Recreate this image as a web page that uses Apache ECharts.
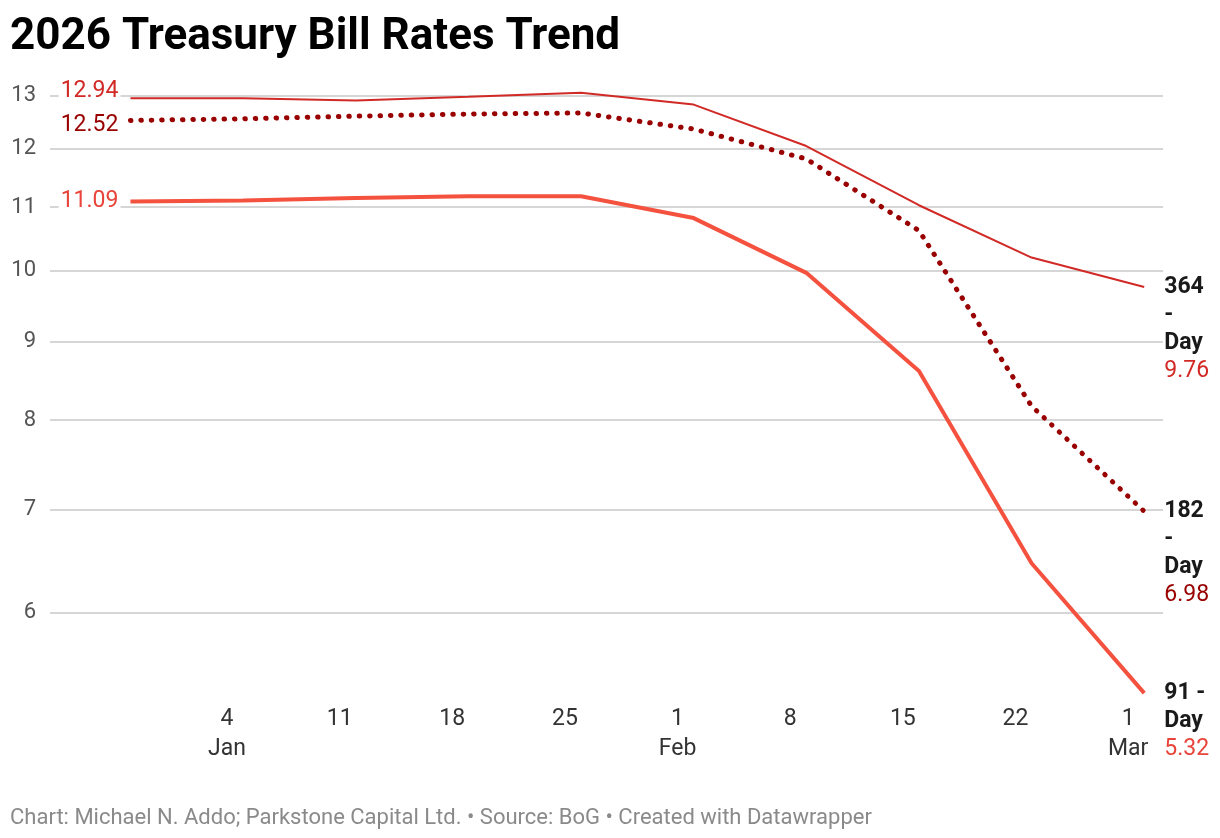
<!DOCTYPE html>
<html><head><meta charset="utf-8">
<script src="https://cdn.jsdelivr.net/npm/echarts@6/dist/echarts.min.js"></script>
<style>html,body{margin:0;padding:0;background:#fff}#c{width:1220px;height:838px}</style>
</head><body><div id="c"></div>
<script>
const dates = ['2025-12-29','2026-01-05','2026-01-12','2026-01-19','2026-01-26','2026-02-02','2026-02-09','2026-02-16','2026-02-23','2026-03-02'];
const rate364 = [12.94,12.94,12.90,12.97,13.05,12.82,12.05,11.03,10.20,9.76];
const rate182 = [12.52,12.55,12.60,12.64,12.66,12.36,11.82,10.62,8.17,6.98];
const rate91  = [11.09,11.11,11.15,11.18,11.18,10.82,9.97,8.61,6.46,5.32];
const yTicks = [6,7,8,9,10,11,12,13];
const xTicks = ['2026-01-04','2026-01-11','2026-01-18','2026-01-25','2026-02-01','2026-02-08','2026-02-15','2026-02-22','2026-03-01'];
const monthNames = ['Jan','Feb','Mar','Apr','May','Jun','Jul','Aug','Sep','Oct','Nov','Dec'];
const seriesNames = ['364-Day','182-Day','91-Day'];
const endNames = [['364','-','Day'],['182','-','Day'],['91 -','Day']];

const FONT = 'Roboto, "Noto Sans", sans-serif';
const toMs = s => new Date(s + (s.length === 10 ? 'T00:00:00' : '')).getTime();

function mk(idx, vals, color, labelColor, lineStyle, startDy, extra) {
  const data = dates.map((d, i) => {
    const item = { value: [toMs(d), vals[i]] };
    if (i === 0) {
      item.label = {
        show: true, position: 'left', distance: 10, offset: [0, startDy],
        formatter: vals[0].toFixed(2),
        color: labelColor, fontSize: 23, fontFamily: FONT,
        backgroundColor: '#fff', padding: [0, 2, 0, 2]
      };
    }
    return item;
  });
  const lines = endNames[idx].map(t => '{b|' + t + '}').join('\n');
  return Object.assign({
    type: 'line', name: seriesNames[idx], data,
    symbol: 'circle', symbolSize: 0, showSymbol: true,
    lineStyle: Object.assign({ color }, lineStyle),
    itemStyle: { color },
    label: { show: false },
    emphasis: { disabled: true },
    endLabel: {
      show: true, distance: 20, align: 'left', verticalAlign: 'top', offset: [0, -14],
      formatter: () => lines + '\n{v|' + vals[vals.length - 1].toFixed(2) + '}',
      rich: {
        b: { fontSize: 23, fontWeight: 'bold', color: '#1a1a1a', lineHeight: 28, fontFamily: FONT },
        v: { fontSize: 23, color: labelColor, lineHeight: 28, fontFamily: FONT }
      }
    }
  }, extra || {});
}

const chart = echarts.init(document.getElementById('c'), null, { renderer: 'canvas' });
chart.setOption({
  animation: false,
  backgroundColor: '#fff',
  title: [
    { text: '2026 Treasury Bill Rates Trend', left: 5, top: 11,
      textStyle: { fontSize: 44, fontWeight: 'bold', color: '#000', fontFamily: FONT } },
    { text: 'Chart: Michael N. Addo; Parkstone Capital Ltd. • Source: BoG • Created with Datawrapper', left: 5, top: 802,
      textStyle: { fontSize: 22, fontWeight: 'normal', color: '#8a8a8a', fontFamily: FONT } }
  ],
  grid: { left: 50, right: 57, top: 70, bottom: 136, containLabel: false },
  xAxis: {
    type: 'value', min: toMs('2025-12-24'), max: toMs('2026-03-03T04:00:00'), scale: true,
    axisLine: { show: false }, axisTick: { show: false }, splitLine: { show: false },
    axisLabel: {
      customValues: xTicks.map(toMs), margin: 2, fontSize: 23, color: '#333', lineHeight: 30, fontFamily: FONT,
      hideOverlap: false, showMinLabel: true, showMaxLabel: true,
      formatter: v => { const d = new Date(v); const day = d.getDate(); return day <= 7 ? day + '\n' + monthNames[d.getMonth()] : String(day); }
    }
  },
  yAxis: {
    type: 'log', logBase: 10, min: 5.25, max: 13.5,
    axisLine: { show: false }, axisTick: { show: false }, splitLine: { show: false }, axisLabel: { show: false }
  },
  series: [
    mk(0, rate364, '#d12a26', '#d12a26', { width: 2 }, -7, {
      markLine: {
        silent: true, z: 1, symbol: ['none', 'none'], animation: false,
        lineStyle: { color: '#d6d6d6', width: 2, type: 'solid' },
        label: { show: true, position: 'start', distance: 14, formatter: p => String(p.value), color: '#555', fontSize: 22, fontFamily: FONT },
        emphasis: { disabled: true },
        data: yTicks.map(v => ({ yAxis: v }))
      }
    }),
    mk(1, rate182, '#990000', '#990000', { width: 5, type: [0.5, 9.9], cap: 'round' }, 5),
    mk(2, rate91, '#f4513f', '#e8443a', { width: 4 }, 0)
  ]
});
</script>
</body></html>
